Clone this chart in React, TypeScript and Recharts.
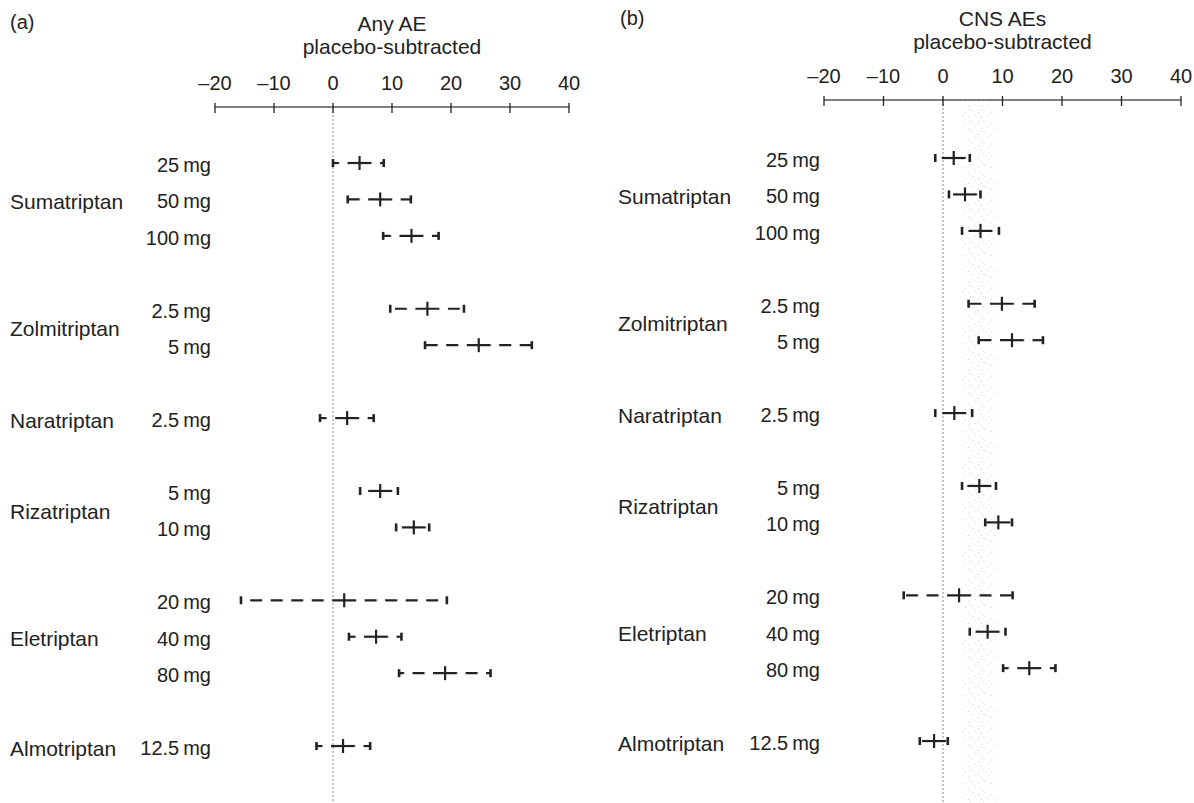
import React from "react";
import {
  ErrorBar,
  ReferenceArea,
  ReferenceLine,
  Scatter,
  ScatterChart,
  XAxis,
  YAxis,
} from "recharts";

// categories
const drugs = ["Sumatriptan", "Zolmitriptan", "Naratriptan", "Rizatriptan", "Eletriptan", "Almotriptan"];
const doseLabels = ["25\u2009mg", "50\u2009mg", "100\u2009mg", "2.5\u2009mg", "5\u2009mg", "2.5\u2009mg", "5\u2009mg", "10\u2009mg", "20\u2009mg", "40\u2009mg", "80\u2009mg", "12.5\u2009mg"];
const doseDrug = [0, 0, 0, 1, 1, 2, 3, 3, 4, 4, 4, 5];
const xTicks = [-20, -10, 0, 10, 20, 30, 40];

// (a) any AE, placebo-subtracted (%)
const anyEst = [4.5, 8.0, 13.3, 16.0, 24.7, 2.4, 8.0, 13.7, 1.9, 7.3, 19.0, 1.7];
const anyLo = [0.0, 2.5, 8.5, 9.7, 15.6, -2.2, 4.6, 10.7, -15.6, 2.7, 11.2, -2.8];
const anyHi = [8.6, 13.2, 17.9, 22.2, 33.7, 6.9, 11.0, 16.3, 19.3, 11.6, 26.7, 6.3];

// (b) CNS AEs, placebo-subtracted (%)
const cnsEst = [1.8, 3.7, 6.3, 9.9, 11.6, 1.9, 6.1, 9.3, 2.7, 7.5, 14.5, -1.5];
const cnsLo = [-1.3, 1.0, 3.2, 4.3, 6.0, -1.3, 3.2, 7.1, -6.6, 4.5, 10.1, -3.9];
const cnsHi = [4.5, 6.3, 9.4, 15.4, 16.8, 4.9, 8.9, 11.6, 11.7, 10.5, 18.9, 0.8];

const INK = "#222";
const FONT = "'Liberation Sans', Arial, Helvetica, sans-serif";
const H = 803;
const DASH = 12;
const PERIOD = 20.5;

// one blank row between drug groups
const rowPos = doseDrug.map((g, i) => i + g);
const groupPos = drugs.map((_, g) => {
  const p = rowPos.filter((_, i) => doseDrug[i] === g);
  return (p[0] + p[p.length - 1]) / 2;
});
const yTicks = Array.from(new Set([...rowPos, ...groupPos])).sort((a, b) => a - b);

const near = (a: number, b: number) => Math.abs(a - b) < 1e-6;
const fmt = (v: number) => (v < 0 ? `\u2013${Math.abs(v)}` : `${v}`);

function XTick(props: any) {
  const { x, y, payload } = props;
  return (
    <g>
      <line x1={x} x2={x} y1={y - 4} y2={y + 6} stroke={INK} strokeWidth={1.3} />
      <text x={x} y={y - 24} textAnchor="middle" dominantBaseline="central" fontSize={20} fill={INK} fontFamily={FONT}>
        {fmt(payload.value)}
      </text>
    </g>
  );
}

function YTick(props: any) {
  const { y, payload, nameX, doseX } = props;
  const v = payload.value;
  const di = rowPos.findIndex((p) => near(p, v));
  const gi = groupPos.findIndex((p) => near(p, v));
  return (
    <g fontFamily={FONT} fill={INK}>
      {gi >= 0 && (
        <text x={nameX} y={y + 2} dominantBaseline="central" fontSize={21} fill={INK}>
          {drugs[gi]}
        </text>
      )}
      {di >= 0 && (
        <text x={doseX} y={y + 2} textAnchor="end" dominantBaseline="central" fontSize={20} fill={INK}>
          {doseLabels[di]}
        </text>
      )}
    </g>
  );
}

const makeCenter = (id: string) => (props: any) => {
  const { cx, cy } = props;
  return (
    <g>
      <defs>
        <pattern id={`${id}-L`} patternUnits="userSpaceOnUse" x={cx - DASH} y={0} width={PERIOD} height={H}>
          <rect x={0} y={0} width={DASH} height={H} fill={INK} />
        </pattern>
        <pattern id={`${id}-R`} patternUnits="userSpaceOnUse" x={cx} y={0} width={PERIOD} height={H}>
          <rect x={0} y={0} width={DASH} height={H} fill={INK} />
        </pattern>
      </defs>
      <line x1={cx} x2={cx} y1={cy - 7} y2={cy + 7} stroke={INK} strokeWidth={2.2} />
    </g>
  );
};

function Cap(props: any) {
  const { cx, cy } = props;
  return <line x1={cx} x2={cx} y1={cy - 4} y2={cy + 4} stroke={INK} strokeWidth={2.6} />;
}

type PanelProps = {
  id: string;
  left: number;
  width: number;
  plotLeft: number;
  plotRight: number;
  axisY: number;
  row0Y: number;
  letter: string;
  letterX: number;
  letterY: number;
  title: string;
  titleY: number;
  subY: number;
  nameX: number;
  doseX: number;
  est: number[];
  lo: number[];
  hi: number[];
  band?: [number, number];
};

function Panel(p: PanelProps) {
  const step = 36.44;
  const yDomain = [-(p.row0Y - p.axisY) / step, (H - p.row0Y) / step];
  const centers = p.est.map((e, i) => ({ x: e, y: rowPos[i], errL: [e - p.lo[i], 0], errR: [0, p.hi[i] - e] }));
  const lows = p.lo.map((v, i) => ({ x: v, y: rowPos[i] }));
  const highs = p.hi.map((v, i) => ({ x: v, y: rowPos[i] }));
  const cxTitle = (p.plotLeft + p.plotRight) / 2 - p.left;
  const textStyle = { position: "absolute" as const, fontSize: 21, lineHeight: "24px", color: INK };
  return (
    <div style={{ position: "absolute", left: p.left, top: 0, width: p.width, height: H }}>
      <div style={{ ...textStyle, fontSize: 20, left: p.letterX - p.left, top: p.letterY - 12 }}>{p.letter}</div>
      <div style={{ ...textStyle, left: cxTitle - 200, width: 400, top: p.titleY - 12, textAlign: "center" }}>{p.title}</div>
      <div style={{ ...textStyle, left: cxTitle - 200, width: 400, top: p.subY - 12, textAlign: "center" }}>
        placebo-subtracted
      </div>
      <div style={{ position: "absolute", left: 0, top: 0 }}>
        <ScatterChart
          width={p.width}
          height={H}
          margin={{ top: 0, right: p.left + p.width - p.plotRight, bottom: 0, left: p.plotLeft - p.left - 1 }}
        >
          <defs>
            <pattern id={`${p.id}-speckle`} patternUnits="userSpaceOnUse" width={13} height={11}>
              <rect x={1} y={2} width={1} height={1} fill="#d4d4d4" />
              <rect x={8} y={0} width={1} height={1} fill="#e0e0e0" />
              <rect x={4} y={7} width={1} height={1} fill="#d9d9d9" />
              <rect x={11} y={5} width={1} height={1} fill="#e3e3e3" />
              <rect x={6} y={10} width={1} height={1} fill="#dcdcdc" />
            </pattern>
          </defs>
          <XAxis
            type="number"
            dataKey="x"
            orientation="top"
            domain={[xTicks[0], xTicks[xTicks.length - 1]]}
            ticks={xTicks}
            interval={0}
            allowDataOverflow
            height={p.axisY}
            tickSize={0}
            tickMargin={0}
            tickLine={false}
            axisLine={{ stroke: "#555", strokeWidth: 1.5 }}
            tick={<XTick />}
          />
          <YAxis
            type="number"
            dataKey="y"
            reversed
            domain={yDomain}
            ticks={yTicks}
            interval={0}
            allowDataOverflow
            width={1}
            axisLine={false}
            tickLine={false}
            tick={<YTick nameX={p.nameX - p.left} doseX={p.doseX - p.left} />}
          />
          {p.band && (
            <ReferenceArea x1={p.band[0]} x2={p.band[1]} fill={`url(#${p.id}-speckle)`} fillOpacity={1} stroke="none" />
          )}
          <ReferenceLine x={0} stroke="#8a8a8a" strokeDasharray="2 2" strokeWidth={1} />
          {centers.map((c, i) => (
            <Scatter key={i} data={[c]} shape={makeCenter(`${p.id}-r${i}`)} isAnimationActive={false}>
              <ErrorBar dataKey="errL" direction="x" width={0} stroke={`url(#${p.id}-r${i}-L)`} strokeWidth={2.2} isAnimationActive={false} />
              <ErrorBar dataKey="errR" direction="x" width={0} stroke={`url(#${p.id}-r${i}-R)`} strokeWidth={2.2} isAnimationActive={false} />
            </Scatter>
          ))}
          <Scatter data={lows} shape={Cap} isAnimationActive={false} />
          <Scatter data={highs} shape={Cap} isAnimationActive={false} />
        </ScatterChart>
      </div>
    </div>
  );
}

export default function App() {
  return (
    <div style={{ position: "absolute", left: 0, top: 0, width: 1194, height: H, background: "#fff", fontFamily: FONT, overflow: "hidden" }}>
      <Panel
        id="a"
        left={0}
        width={600}
        plotLeft={215}
        plotRight={569}
        axisY={107}
        row0Y={163}
        letter="(a)"
        letterX={10}
        letterY={22}
        title="Any AE"
        titleY={24}
        subY={47}
        nameX={10}
        doseX={211}
        est={anyEst}
        lo={anyLo}
        hi={anyHi}
      />
      <Panel
        id="b"
        left={600}
        width={594}
        plotLeft={824}
        plotRight={1181}
        axisY={100}
        row0Y={158}
        letter="(b)"
        letterX={620}
        letterY={18}
        title="CNS AEs"
        titleY={19}
        subY={42}
        nameX={618}
        doseX={820}
        est={cnsEst}
        lo={cnsLo}
        hi={cnsHi}
        band={[3, 9]}
      />
    </div>
  );
}
